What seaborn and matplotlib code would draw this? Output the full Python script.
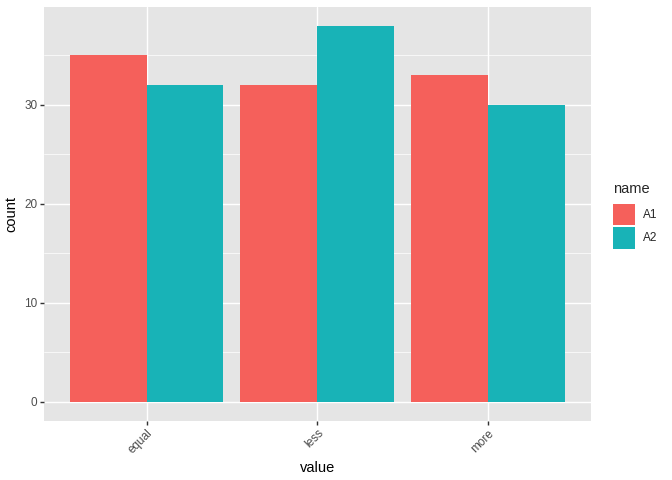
import pandas as pd
import numpy as np
import seaborn as sns
import matplotlib.pyplot as plt
from matplotlib.patches import Patch

# data
values = ['equal', 'less', 'more']
names = ['A1', 'A2']
count_a1 = [35, 32, 33]
count_a2 = [32, 38, 30]

df = pd.DataFrame({
    'value': values * 2,
    'name': ['A1'] * 3 + ['A2'] * 3,
    'count': count_a1 + count_a2,
})

colors = ['#F5605B', '#18B3B7']

sns.set_theme(style='darkgrid')
plt.rcParams['font.family'] = ['Liberation Sans', 'DejaVu Sans']

fig = plt.figure(figsize=(7, 5), dpi=96)
ax = fig.add_axes([44 / 672, 59.3 / 480, 546.7 / 672, 413.7 / 480])

sns.barplot(data=df, x='value', y='count', hue='name', palette=colors,
            width=0.9, gap=0, saturation=1, linewidth=0, ax=ax,
            legend=False, zorder=3)

ax.set_facecolor('#E5E5E5')
ax.set_xlim(-0.6, 2.6)
ax.set_ylim(-1.9, 39.9)
ax.set_yticks([0, 10, 20, 30])
ax.set_yticks([5, 15, 25, 35], minor=True)
ax.grid(which='major', color='white', linewidth=1.07, zorder=0)
ax.grid(which='minor', axis='y', color='white', linewidth=0.53, zorder=0)
ax.set_axisbelow(True)
for s in ax.spines.values():
    s.set_visible(False)

ax.tick_params(axis='both', which='major', length=2.75, width=1.07, color='#333333',
               labelcolor='#4D4D4D', labelsize=8.8, pad=2.2, left=True, bottom=True)
ax.tick_params(which='minor', length=0)
plt.setp(ax.get_xticklabels(), rotation=45, ha='right', rotation_mode='anchor')

ax.set_xlabel('value', fontsize=11, color='black', labelpad=4)
ax.set_ylabel('count', fontsize=11, color='black', labelpad=4)

handles = [Patch(facecolor=c, edgecolor='none') for c in colors]
leg = fig.legend(handles, names, title='name', loc='center left',
                 bbox_to_anchor=(613 / 672, 0.552), frameon=False,
                 fontsize=8.8, title_fontsize=11, handlelength=1.85,
                 handleheight=2.5, handletextpad=0.7, labelspacing=0.1,
                 borderaxespad=0, borderpad=0)
leg._legend_box.align = 'left'
leg._legend_box.sep = 6

fig.savefig('out.png', dpi=96)
